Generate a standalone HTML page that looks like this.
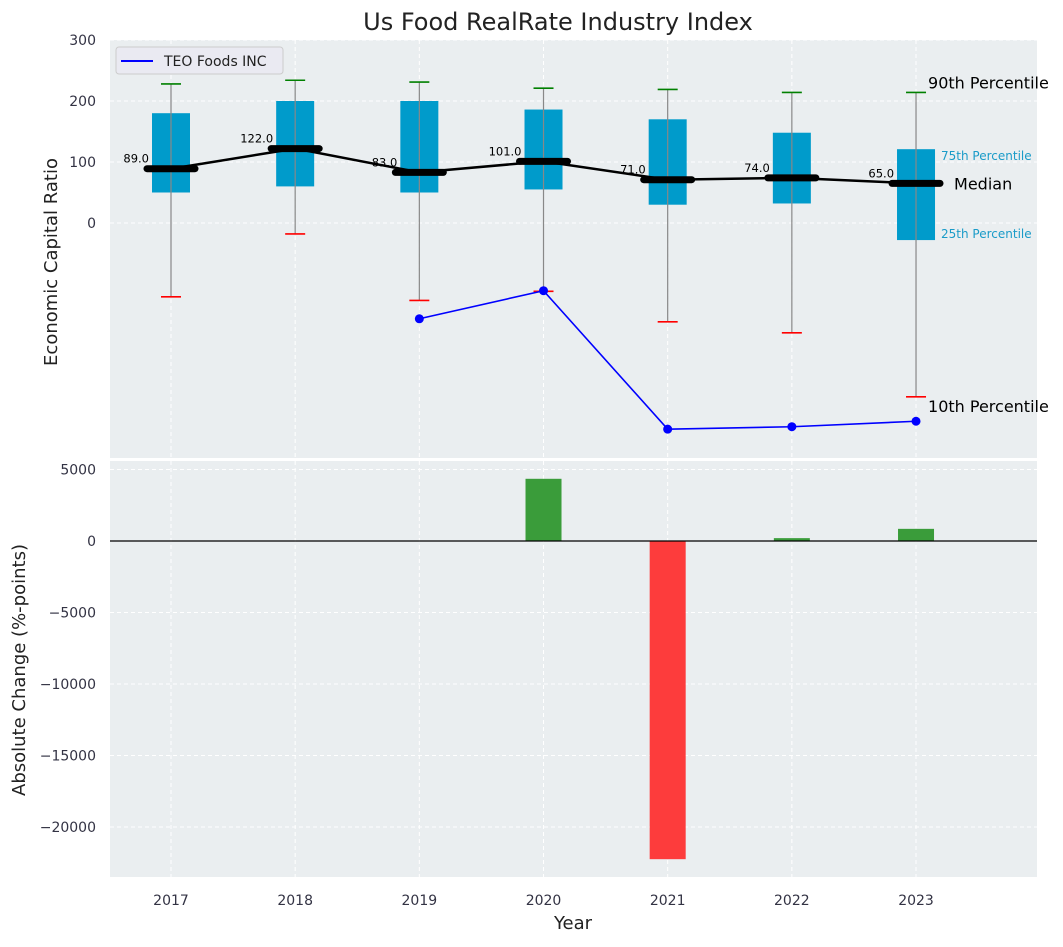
<!DOCTYPE html>
<html><head><meta charset="utf-8"><style>
body{margin:0;background:#fff;font-family:"Liberation Sans","DejaVu Sans",sans-serif}
svg text{font-family:"DejaVu Sans","Liberation Sans",sans-serif}
</style></head><body>
<svg id="c" width="1063" height="942" xmlns="http://www.w3.org/2000/svg">
<text x="558" y="30" font-size="24" text-anchor="middle" fill="#222">Us Food RealRate Industry Index</text>
<rect x="110" y="40" width="927" height="418" fill="#eaeef0"/>
<rect x="110" y="461" width="927" height="416" fill="#eaeef0"/>
<g id="g"></g>
<text x="57" y="262" font-size="18" fill="#222" text-anchor="middle" transform="rotate(-90 57 262)">Economic Capital Ratio</text>
<text x="25" y="670" font-size="18" fill="#222" text-anchor="middle" transform="rotate(-90 25 670)">Absolute Change (%-points)</text>
<text x="573" y="929" font-size="18" fill="#222" text-anchor="middle">Year</text>
<g>
<rect x="116" y="47" width="167" height="27" rx="3" fill="#eaeaf2" stroke="#ccc"/>
<line x1="121" y1="61" x2="153" y2="61" stroke="blue" stroke-width="2"/>
<text x="164" y="66" font-size="14" fill="#222">TEO Foods INC</text>
</g>
</svg>
<script>
const years=[2017,2018,2019,2020,2021,2022,2023];
const p10=[-121,-18,-127,-112,-162,-180,-285];
const p25=[50,60,50,55,30,32,-28];
const med=[89,122,83,101,71,74,65];
const p75=[180,200,200,186,170,148,121];
const p90=[228,234,231,221,219,214,214];
const teoYears=[2019,2020,2021,2022,2023];
const teo=[-157,-111,-338,-334,-325];
const chgYears=[2020,2021,2022,2023];
const chg=[4350,-22250,200,850];
const yTicksTop=[0,100,200,300];
const yTicksBot=[5000,0,-5000,-10000,-15000,-20000];

const X=v=>171+(v-2017)*124.17;
const Y1=v=>223-v*0.61;
const Y2=v=>541-v*0.0143;
const g=document.getElementById('g');
const NS='http://www.w3.org/2000/svg';
function mk(t,a,p){const e=document.createElementNS(NS,t);for(const k in a)e.setAttribute(k,a[k]);(p||g).appendChild(e);return e;}
function txt(s,a){const e=mk('text',a);e.textContent=s;return e;}
years.forEach(y=>{
 let l=mk('line',{x1:X(y),x2:X(y),y1:40,y2:458,stroke:'#fff','stroke-dasharray':'4,3','stroke-width':1});
 
 
 l=mk('line',{x1:X(y),x2:X(y),y1:461,y2:877,stroke:'#fff','stroke-dasharray':'4,3','stroke-width':1});
 
 
 const t=txt(y,{x:X(y),y:905,'font-size':14,fill:'#334','text-anchor':'middle'});
 
 
});
yTicksTop.forEach(v=>{
 const l=mk('line',{x1:110,x2:1037,y1:Y1(v),y2:Y1(v),stroke:'#fff','stroke-dasharray':'4,3'});
 
 
 const t=txt(v,{x:96,y:Y1(v)+5,'font-size':14,fill:'#334','text-anchor':'end'});
 
 
});
yTicksBot.forEach(v=>{
 const l=mk('line',{x1:110,x2:1037,y1:Y2(v),y2:Y2(v),stroke:'#fff','stroke-dasharray':'4,3'});
 
 
 const t=txt(String(v).replace('-','\u2212'),{x:96,y:Y2(v)+5,'font-size':14,fill:'#334','text-anchor':'end'});
 
 
});
years.forEach((y,i)=>{
 const x=X(y);
 let e=mk('rect',{x:x-19,y:Y1(p75[i]),width:38,height:Y1(p25[i])-Y1(p75[i]),fill:'#009bcb'});
 
 
 e=mk('line',{x1:x,x2:x,y1:Y1(p90[i]),y2:Y1(p10[i]),stroke:'#888','stroke-width':1.2});
 
 
 e=mk('line',{x1:x-10,x2:x+10,y1:Y1(p90[i]),y2:Y1(p90[i]),stroke:'green','stroke-width':1.6});
 
 
 e=mk('line',{x1:x-10,x2:x+10,y1:Y1(p10[i]),y2:Y1(p10[i]),stroke:'red','stroke-width':1.6});
 
 
});
let pl=mk('polyline',{points:years.map((y,i)=>X(y)+','+Y1(med[i])).join(' '),fill:'none',stroke:'#000','stroke-width':2.5});


years.forEach((y,i)=>{
 const x=X(y);
 let e=mk('line',{x1:x-24,x2:x+24,y1:Y1(med[i]),y2:Y1(med[i]),stroke:'#000','stroke-width':7,'stroke-linecap':'round'});
 
 
 e=txt(med[i].toFixed(1),{x:x-22,y:Y1(med[i])-6,'font-size':11.5,fill:'#000','text-anchor':'end'});
 
 
});
pl=mk('polyline',{points:teoYears.map((y,i)=>X(y)+','+Y1(teo[i])).join(' '),fill:'none',stroke:'blue','stroke-width':1.6});


teoYears.forEach((y,i)=>{
 const c=mk('circle',{cx:X(y),cy:Y1(teo[i]),r:4.5,fill:'blue'});
 
 
});
const L=years.length-1, lx=X(years[L]);
[['90th Percentile',lx+12,Y1(p90[L])-4,16,'#000'],['75th Percentile',lx+25,Y1(p75[L])+11,12,'#1a9bc8'],['Median',lx+38,Y1(med[L])+6,16,'#000'],['25th Percentile',lx+25,Y1(p25[L])-2,12,'#1a9bc8'],['10th Percentile',lx+12,Y1(p10[L])+15,16,'#000']].forEach(a=>{
 const t=txt(a[0],{x:a[1],y:a[2],'font-size':a[3],fill:a[4]});
 
 
});
chgYears.forEach((y,i)=>{
 const v=chg[i];
 const r=mk('rect',{x:X(y)-18,y:Math.min(Y2(v),Y2(0)),width:36,height:Math.abs(Y2(v)-Y2(0)),fill:v>=0?'#3a9c3a':'#fd3c3c'});
 
 
});
const z=mk('line',{x1:110,x2:1037,y1:Y2(0),y2:Y2(0),stroke:'#000','stroke-width':1.2});


</script>
</body></html>
